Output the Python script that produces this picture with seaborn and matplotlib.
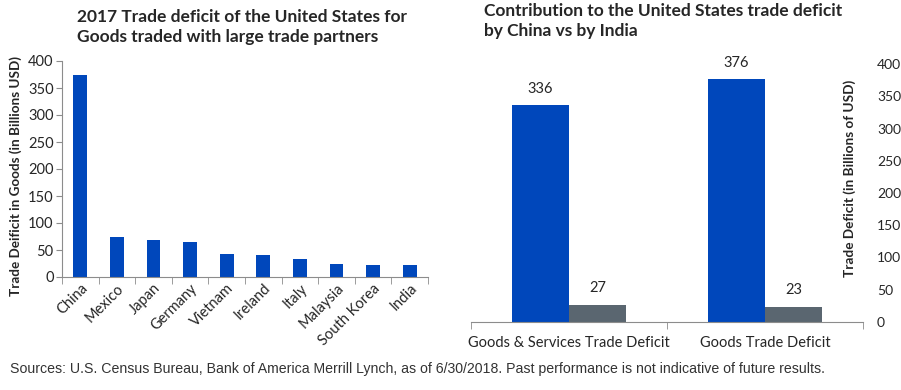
import matplotlib
matplotlib.use("Agg")
import matplotlib.pyplot as plt
import seaborn as sns
import pandas as pd
import numpy as np

sns.set_style("white")
plt.rcParams["font.family"] = ["Lato", "DejaVu Sans"]

# Left chart data
countries = ["China", "Mexico", "Japan", "Germany", "Vietnam", "Ireland",
             "Italy", "Malaysia", "South Korea", "India"]
goods_deficit = [375, 74, 69, 64, 43, 41, 33, 25, 23, 23]

# Right chart data
categories = ["Goods & Services Trade Deficit", "Goods Trade Deficit"]
china_vals = [336, 376]
india_vals = [27, 23]

blue = "#0047BB"
gray = "#5A6670"
spine = "#8C8C8C"

W, H = 901, 390
fig = plt.figure(figsize=(W / 100, H / 100), dpi=100)


def px_axes(x0, y0, x1, y1):
    return fig.add_axes([x0 / W, 1 - y1 / H, (x1 - x0) / W, (y1 - y0) / H])


# ---- left chart
ax1 = px_axes(62, 61, 428, 277)
sns.barplot(x=countries, y=goods_deficit, color=blue, width=0.38,
            saturation=1, linewidth=0, ax=ax1)
ax1.set_ylim(0, 400)
ax1.set_xlim(-0.5, len(countries) - 0.5)
ax1.set_yticks(range(0, 401, 50))
ax1.tick_params(axis="y", labelsize=10.5, length=4, color=spine, pad=2,
                left=True)
ax1.set_xticks(np.arange(len(countries) + 1) - 0.5, minor=True)
ax1.tick_params(axis="x", which="major", length=0, labelsize=10.5, pad=3)
ax1.tick_params(axis="x", which="minor", length=5, color=spine, bottom=True)
plt.setp(ax1.get_xticklabels(), rotation=45, ha="right",
         rotation_mode="anchor")
for s in ["top", "right"]:
    ax1.spines[s].set_visible(False)
for s in ["left", "bottom"]:
    ax1.spines[s].set_color(spine)
ax1.set_ylabel("")
fig.text(16 / W, 1 - 176 / H, "Trade Deificit in Goods (in Billions USD)",
         rotation=90, ha="center", va="center", fontsize=9.7,
         fontweight="bold")
fig.text(77 / W, 1 - 27 / H,
         "2017 Trade deficit of the United States for\nGoods traded with large trade partners",
         ha="left", va="center", fontsize=12.5, fontweight="bold",
         linespacing=1.35)

# ---- right chart
df = pd.DataFrame({
    "category": categories * 2,
    "value": china_vals + india_vals,
    "country": ["China"] * len(categories) + ["India"] * len(categories),
})
ax2 = px_axes(471, 64, 863, 322)
sns.barplot(data=df, x="category", y="value", hue="country",
            palette=[blue, gray], width=0.58, saturation=1, gap=0,
            linewidth=0, legend=False, ax=ax2)
ax2.set_ylim(0, 400)
ax2.set_xlim(-0.5, len(categories) - 0.5)
ax2.yaxis.tick_right()
ax2.set_yticks(range(0, 401, 50))
ax2.tick_params(axis="y", labelsize=10, length=0, pad=10)
ax2.set_xticks(np.arange(len(categories) + 1) - 0.5, minor=True)
ax2.tick_params(axis="x", which="major", length=0, labelsize=10.5, pad=10)
ax2.tick_params(axis="x", which="minor", length=5, color=spine, bottom=True)
for s in ["top", "right", "left"]:
    ax2.spines[s].set_visible(False)
ax2.spines["bottom"].set_color(spine)
ax2.set_xlabel("")
ax2.set_ylabel("")
for cont in ax2.containers:
    ax2.bar_label(cont, fmt="%d", padding=7, fontsize=10.5)
fig.text(850 / W, 1 - 178 / H, "Trade Deficit (in Billions of USD)",
         rotation=90, ha="center", va="center", fontsize=9.8,
         fontweight="bold")
fig.text(484 / W, 1 - 21 / H,
         "Contribution to the United States trade deficit\nby China vs by India",
         ha="left", va="center", fontsize=12.5, fontweight="bold",
         linespacing=1.35)

fig.text(10 / W, 1 - 369 / H,
         "Sources: U.S. Census Bureau, Bank of America Merrill Lynch, as of 6/30/2018. Past performance is not indicative of future results.",
         ha="left", va="center", fontsize=10.2, color="#333333",
         family="Liberation Sans")

fig.savefig("out.png", dpi=100)
